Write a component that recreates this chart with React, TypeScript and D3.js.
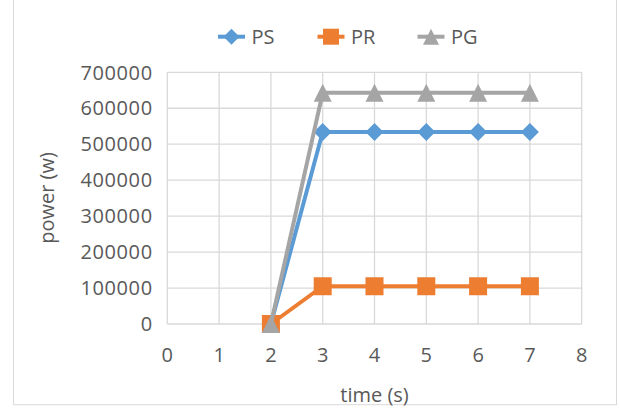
import React from "react";
import * as d3 from "d3";

const times = [2, 3, 4, 5, 6, 7];
const psValues = [0, 534000, 534000, 534000, 534000, 534000];
const prValues = [0, 105000, 105000, 105000, 105000, 105000];
const pgValues = [0, 643000, 643000, 643000, 643000, 643000];
const xTicks = [0, 1, 2, 3, 4, 5, 6, 7, 8];
const yTicks = [0, 100000, 200000, 300000, 400000, 500000, 600000, 700000];
const seriesNames = ["PS", "PR", "PG"];
const seriesColors = ["#5B9BD5", "#ED7D31", "#A5A5A5"];

const W = 619;
const H = 411;
const FONT = "'Open Sans', 'Noto Sans', sans-serif";
const TEXT = "#595959";

function Marker({ kind, x, y, color, size }: { kind: string; x: number; y: number; color: string; size: number }) {
  const h = size / 2;
  if (kind === "PS") {
    return <path d={`M${x},${y - h}L${x + h},${y}L${x},${y + h}L${x - h},${y}Z`} fill={color} />;
  }
  if (kind === "PR") {
    return <rect x={x - h} y={y - h} width={size} height={size} fill={color} />;
  }
  return <path d={`M${x},${y - h}L${x + h},${y + h}L${x - h},${y + h}Z`} fill={color} />;
}

export default function App() {
  const x = d3.scaleLinear().domain([0, 8]).range([167.3, 581.7]);
  const y = d3.scaleLinear().domain([0, 700000]).range([324, 72.3]);
  const data = [psValues, prValues, pgValues];
  const line = d3
    .line<[number, number]>()
    .x((d) => x(d[0]))
    .y((d) => y(d[1]));

  const legendX = [231.5, 331, 431];

  return (
    <svg width={W} height={H} style={{ position: "absolute", left: 0, top: 0 }} fontFamily={FONT}>
      <rect x={0} y={0} width={W} height={H} fill="#fff" />
      <rect x={13.5} y={-5} width={603} height={409.7} fill="none" stroke="#d9d9d9" strokeWidth={1} />
      {yTicks.map((t) => (
        <line key={"gy" + t} x1={x(0)} x2={x(8)} y1={y(t)} y2={y(t)} stroke="#d9d9d9" strokeWidth={1.3} />
      ))}
      {xTicks.map((t) => (
        <line key={"gx" + t} x1={x(t)} x2={x(t)} y1={y(0)} y2={y(700000)} stroke="#d9d9d9" strokeWidth={1.3} />
      ))}
      {yTicks.map((t) => (
        <text key={"ty" + t} x={152.7} y={y(t)} dy="0.36em" textAnchor="end" fontSize={20} fill={TEXT} letterSpacing={0.6}>
          {t}
        </text>
      ))}
      {xTicks.map((t) => (
        <text key={"tx" + t} x={x(t)} y={361.5} textAnchor="middle" fontSize={20} fill={TEXT}>
          {t}
        </text>
      ))}
      <text x={374.5} y={401.5} textAnchor="middle" fontSize={20} fill={TEXT}>
        time (s)
      </text>
      <text transform="translate(53.5,198) rotate(-90)" textAnchor="middle" fontSize={20} fill={TEXT}>
        power (w)
      </text>
      {data.map((vals, i) => {
        const pts: [number, number][] = times.map((t, j) => [t, vals[j]]);
        return (
          <g key={"s" + i}>
            <path d={line(pts) || ""} fill="none" stroke={seriesColors[i]} strokeWidth={4} strokeLinejoin="round" />
            {pts.map((p, j) => (
              <Marker key={j} kind={seriesNames[i]} x={x(p[0])} y={y(p[1])} color={seriesColors[i]} size={18} />
            ))}
          </g>
        );
      })}
      {seriesNames.map((n, i) => (
        <g key={"lg" + n}>
          <line x1={legendX[i] - 13.5} x2={legendX[i] + 13.5} y1={36.7} y2={36.7} stroke={seriesColors[i]} strokeWidth={4} />
          <Marker kind={n} x={legendX[i]} y={36.7} color={seriesColors[i]} size={16} />
          <text x={legendX[i] + 20} y={43.5} fontSize={20} fill={TEXT}>
            {n}
          </text>
        </g>
      ))}
    </svg>
  );
}
